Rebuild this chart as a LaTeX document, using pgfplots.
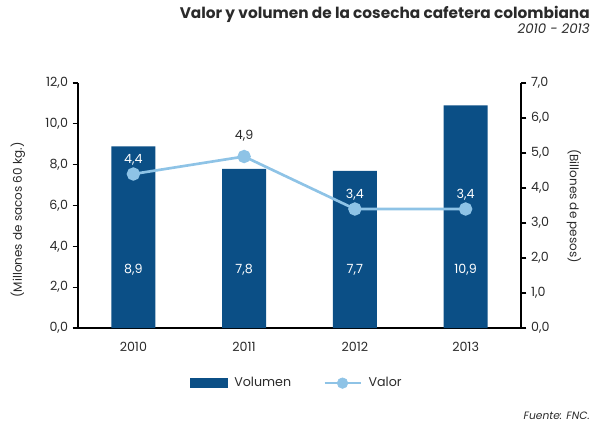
\documentclass[border=0pt]{standalone}
\usepackage{pgfplots}
\pgfplotsset{compat=1.18}
\usepackage{fontspec}
\setmainfont{Poppins}
\definecolor{barblue}{HTML}{0B4F86}
\definecolor{lineblue}{HTML}{8EC3E6}
\definecolor{txt}{HTML}{2A2A2A}

\begin{document}
\begin{tikzpicture}
\begin{scope}[x=0.75pt,y=0.75pt]
\path[use as bounding box] (0,0) rectangle (591,425);

% title
\node[anchor=base east, font=\fontsize{11.5}{13}\selectfont\bfseries, text=txt, inner sep=0] at (590,406) {Valor y volumen de la cosecha cafetera colombiana};
\node[anchor=base east, font=\fontsize{10}{12}\selectfont\itshape, text=txt, inner sep=0] at (590,391) {2010 - 2013};
\node[anchor=base east, font=\fontsize{8}{10}\selectfont\itshape, text=txt, inner sep=0] at (590,6) {Fuente: FNC.};

% axis titles
\node[rotate=90, font=\fontsize{9}{10}\selectfont, text=txt] at (18,205) {(Millones de sacos 60 kg.)};
\node[rotate=-90, font=\fontsize{9}{10}\selectfont, text=txt] at (574,219) {(Billones de pesos)};
\end{scope}

\begin{axis}[
    at={(58.5pt,72.75pt)}, anchor=south west,
    scale only axis,
    width=332.25pt, height=183.75pt,
    xmin=-0.5, xmax=3.5,
    ymin=0, ymax=12,
    axis x line*=bottom,
    axis y line*=left,
    axis line style={black, line width=0.9pt},
    xtick={0,1,2,3},
    xticklabels={2010,2011,2012,2013},
    ytick={0,2,...,12},
    tick align=outside,
    major tick length=4pt,
    major x tick style={draw=none},
    ytick style={black, line width=0.8pt},
    ticklabel style={font=\fontsize{9.5}{10}\selectfont, text=txt},
    yticklabel style={/pgf/number format/.cd, use comma, fixed, fixed zerofill, precision=1, assume math mode=true},
    xticklabel style={yshift=-3pt},
    ybar, bar width=33pt,
    legend columns=2,
    legend style={at={(0.495,-0.225)}, anchor=center, draw=none, fill=none,
        font=\fontsize{9.5}{10}\selectfont, text=txt,
        /tikz/every odd column/.append style={column sep=3pt},
        /tikz/every even column/.append style={column sep=22pt}},
    clip=false,
]
\addplot[fill=barblue, draw=none,
    legend image code/.code={\fill[barblue] (0pt,-4pt) rectangle (28pt,4pt);}]
    coordinates {(0,8.9) (1,7.8) (2,7.7) (3,10.9)};
\addlegendentry{Volumen}
\addlegendimage{legend image code/.code={
    \draw[lineblue, line width=2pt] (0pt,0pt) -- (27pt,0pt);
    \fill[lineblue] (13.5pt,0pt) circle (4pt);}}
\addlegendentry{Valor}

\node[text=white, font=\fontsize{9.5}{10}\selectfont] at (axis cs:0,2.85) {8,9};
\node[text=white, font=\fontsize{9.5}{10}\selectfont] at (axis cs:1,2.85) {7,8};
\node[text=white, font=\fontsize{9.5}{10}\selectfont] at (axis cs:2,2.85) {7,7};
\node[text=white, font=\fontsize{9.5}{10}\selectfont] at (axis cs:3,2.85) {10,9};
\end{axis}

\begin{axis}[
    at={(58.5pt,72.75pt)}, anchor=south west,
    scale only axis,
    width=332.25pt, height=183.75pt,
    xmin=-0.5, xmax=3.5,
    ymin=0, ymax=7,
    axis x line=none,
    axis y line*=right,
    axis line style={black, line width=0.9pt},
    ytick={0,1,...,7},
    tick align=outside,
    major tick length=4pt,
    ytick style={black, line width=0.8pt},
    ticklabel style={font=\fontsize{9.5}{10}\selectfont, text=txt},
    yticklabel style={/pgf/number format/.cd, use comma, fixed, fixed zerofill, precision=1, assume math mode=true},
    clip=false,
]
\addplot[lineblue, line width=2pt, mark=*, mark size=4pt, mark options={fill=lineblue, draw=lineblue}]
    coordinates {(0,4.4) (1,4.9) (2,3.4) (3,3.4)};
\node[text=white, font=\fontsize{9.5}{10}\selectfont] at (axis cs:0,4.8) {4,4};
\node[text=txt, font=\fontsize{9.5}{10}\selectfont] at (axis cs:1,5.5) {4,9};
\node[text=white, font=\fontsize{9.5}{10}\selectfont] at (axis cs:2,3.8) {3,4};
\node[text=white, font=\fontsize{9.5}{10}\selectfont] at (axis cs:3,3.8) {3,4};
\end{axis}
\end{tikzpicture}
\end{document}
